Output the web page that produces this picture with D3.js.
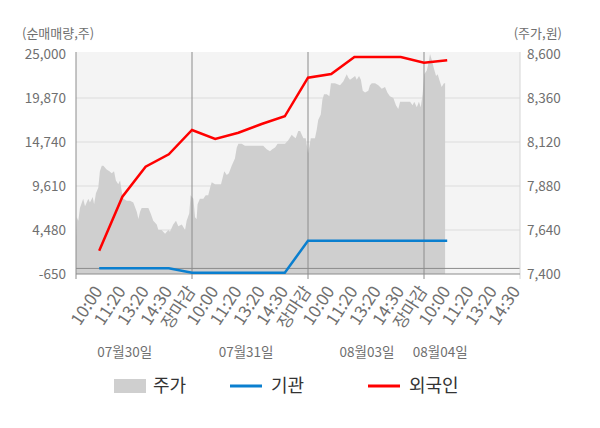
<!DOCTYPE html>
<html>
<head>
<meta charset="utf-8">
<script src="https://cdn.jsdelivr.net/npm/d3@7"></script>
<style>
  body { margin: 0; background: #fff; }
  svg { font-family: "Noto Sans CJK KR", "Noto Sans", sans-serif; }
  .tick_label { fill: #6f6f6f; font-size: 13.5px; }
  .legend_label { fill: #333; font-size: 18px; }
</style>
</head>
<body>
<svg id="chart" width="600" height="428"></svg>
<script>
// x labels, one per slot (slot 1..19), five slots per trading day
let xLabels = ["10:00", "11:20", "13:20", "14:30", "장마감",
               "10:00", "11:20", "13:20", "14:30", "장마감",
               "10:00", "11:20", "13:20", "14:30", "장마감",
               "10:00", "11:20", "13:20", "14:30"];
let dayLabels = ["07월30일", "07월31일", "08월03일", "08월04일"];
let daySlots = [2.1, 7.33, 12.54, 15.7];
let dayBreaks = [5, 10, 15];

let leftTicks = [-650, 4480, 9610, 14740, 19870, 25000];
let rightTicks = [7400, 7640, 7880, 8120, 8360, 8600];

// 순매매량 at slots 1..16
let foreign = [2070, 8360, 11860, 13310, 16140, 15090, 15820, 16840, 17740,
               22240, 22670, 24650, 24650, 24650, 23990, 24270];
let institution = [30, 30, 30, 30, -500, -500, -500, -500, -500,
                   3230, 3230, 3230, 3230, 3230, 3230, 3230];

// 주가 (intraday), [slot, price]
let price = [
  [0.00, 7600], [0.03, 7710], [0.10, 7690], [0.17, 7760], [0.31, 7810], [0.39, 7770],
  [0.53, 7810], [0.60, 7790], [0.72, 7820], [0.78, 7780], [0.86, 7840], [0.96, 7870],
  [1.03, 7960], [1.11, 7990], [1.18, 7990], [1.32, 7970], [1.44, 7960], [1.54, 7950],
  [1.64, 7960], [1.72, 7910], [1.82, 7890], [1.90, 7910], [1.97, 7850], [2.04, 7810],
  [2.19, 7800], [2.33, 7800], [2.47, 7790], [2.62, 7740], [2.69, 7700], [2.76, 7740],
  [2.83, 7760], [2.97, 7760], [3.12, 7760], [3.22, 7730], [3.33, 7690], [3.48, 7670],
  [3.55, 7640], [3.69, 7640], [3.84, 7620], [3.98, 7640], [4.05, 7630], [4.19, 7670],
  [4.31, 7690], [4.41, 7660], [4.56, 7670], [4.70, 7640], [4.77, 7690], [4.88, 7730],
  [4.94, 7830], [5.06, 7810], [5.13, 7710], [5.20, 7700], [5.24, 7780], [5.34, 7810],
  [5.49, 7810], [5.59, 7830], [5.70, 7830], [5.78, 7870], [5.85, 7900], [5.99, 7890],
  [6.13, 7890], [6.25, 7890], [6.31, 7920], [6.39, 7960], [6.50, 7940], [6.59, 7950],
  [6.71, 7990], [6.85, 8030], [6.93, 8090], [7.00, 8110], [7.14, 8110], [7.28, 8100],
  [7.43, 8100], [7.57, 8100], [7.72, 8100], [7.86, 8100], [8.07, 8100], [8.22, 8080],
  [8.36, 8070], [8.46, 8080], [8.58, 8090], [8.69, 8110], [8.87, 8110], [9.01, 8110],
  [9.15, 8130], [9.30, 8160], [9.37, 8150], [9.47, 8140], [9.58, 8180], [9.66, 8180],
  [9.80, 8140], [9.90, 8140], [9.99, 8070], [10.01, 8060], [10.12, 8140], [10.30, 8140],
  [10.38, 8190], [10.44, 8240], [10.55, 8270], [10.62, 8350], [10.69, 8380], [10.81, 8380],
  [10.92, 8370], [10.99, 8440], [11.16, 8440], [11.38, 8430], [11.52, 8450], [11.67, 8490],
  [11.74, 8470], [11.81, 8460], [11.93, 8470], [12.03, 8480], [12.10, 8460], [12.20, 8480],
  [12.28, 8460], [12.36, 8400], [12.46, 8390], [12.60, 8400], [12.67, 8430], [12.75, 8440],
  [12.89, 8440], [13.03, 8430], [13.18, 8410], [13.32, 8420], [13.42, 8390], [13.53, 8370],
  [13.68, 8360], [13.79, 8320], [13.89, 8300], [13.97, 8340], [14.11, 8340], [14.25, 8340],
  [14.40, 8340], [14.51, 8320], [14.58, 8340], [14.69, 8310], [14.78, 8340], [14.86, 8310],
  [14.94, 8380], [15.01, 8490], [15.12, 8510], [15.19, 8550], [15.26, 8600], [15.33, 8570],
  [15.43, 8520], [15.52, 8480], [15.59, 8490], [15.66, 8460], [15.76, 8420], [15.86, 8440],
  [15.91, 8440]
];

let legendItems = [
  {name: "주가", color: "#cfcfcf", type: "rect"},
  {name: "기관", color: "#0a7fcf", type: "line"},
  {name: "외국인", color: "#ff0000", type: "line"}
];

let plot = {left: 76, right: 520, top: 52, bottom: 274};
let fmt = d3.formatLocale({decimal: ".", thousands: ",", grouping: [3], currency: ["", ""], minus: "-"}).format(",");

function make_scales() {
  return {
    x: d3.scaleLinear().domain([0, 20]).range([plot.left, plot.left + 464]),
    yL: d3.scaleLinear().domain([-650, 25000]).range([plot.bottom, 54]),
    yR: d3.scaleLinear().domain([7400, 8600]).range([plot.bottom, 54])
  }
}

function draw(scales) {
  let svg = d3.select("#chart");

  svg.append("defs").append("clipPath").attr("id", "clip")
    .append("rect")
    .attr("x", plot.left).attr("y", plot.top)
    .attr("width", plot.right - plot.left).attr("height", plot.bottom - plot.top);

  svg.append("rect")
    .attr("x", plot.left).attr("y", plot.top)
    .attr("width", plot.right - plot.left).attr("height", plot.bottom - plot.top)
    .attr("fill", "#f4f4f4");

  // grid
  svg.append("g").selectAll("line")
    .data(leftTicks.slice(1, -1)).enter()
    .append("line")
    .attr("x1", plot.left).attr("x2", plot.right)
    .attr("y1", d => scales.yL(d)).attr("y2", d => scales.yL(d))
    .attr("stroke", "#dcdcdc").attr("stroke-width", 1);

  // price area
  let area = d3.area()
    .x(d => scales.x(d[0]))
    .y0(plot.bottom)
    .y1(d => scales.yR(d[1]));
  svg.append("path")
    .datum(price)
    .attr("clip-path", "url(#clip)")
    .attr("d", area)
    .attr("fill", "#cfcfcf");

  // zero line
  svg.append("line")
    .attr("x1", plot.left).attr("x2", plot.right)
    .attr("y1", scales.yL(0)).attr("y2", scales.yL(0))
    .attr("stroke", "#8c8c8c").attr("stroke-width", 1);

  // day breaks
  svg.append("g").selectAll("line")
    .data(dayBreaks).enter()
    .append("line")
    .attr("x1", d => scales.x(d)).attr("x2", d => scales.x(d))
    .attr("y1", plot.top).attr("y2", plot.bottom + 5)
    .attr("stroke", "#8c8c8c").attr("stroke-width", 1);

  // axes lines
  svg.append("line")
    .attr("x1", plot.left).attr("x2", plot.left)
    .attr("y1", plot.top).attr("y2", plot.bottom + 5)
    .attr("stroke", "#8c8c8c");
  svg.append("line")
    .attr("x1", plot.right).attr("x2", plot.right)
    .attr("y1", plot.top).attr("y2", plot.bottom + 5)
    .attr("stroke", "#d6d6d6");
  svg.append("line")
    .attr("x1", plot.left).attr("x2", plot.right)
    .attr("y1", plot.bottom).attr("y2", plot.bottom)
    .attr("stroke", "#8c8c8c");

  // series lines
  let line = d3.line()
    .x((d, i) => scales.x(i + 1))
    .y(d => scales.yL(d));
  svg.append("path").datum(institution)
    .attr("d", line)
    .attr("fill", "none").attr("stroke", "#0a7fcf").attr("stroke-width", 2.5);
  svg.append("path").datum(foreign)
    .attr("d", line)
    .attr("fill", "none").attr("stroke", "#ff0000").attr("stroke-width", 2.5);

  annotations(svg, scales);
  legend(svg);
}

function annotations(svg, scales) {
  svg.append("g").selectAll("text")
    .data(leftTicks).enter()
    .append("text")
    .attr("class", "tick_label")
    .attr("x", 66).attr("y", d => scales.yL(d))
    .attr("dy", "0.35em").attr("text-anchor", "end")
    .text(d => fmt(d));

  svg.append("g").selectAll("text")
    .data(rightTicks).enter()
    .append("text")
    .attr("class", "tick_label")
    .attr("x", 527).attr("y", d => scales.yR(d))
    .attr("dy", "0.35em")
    .text(d => fmt(d));

  svg.append("text").attr("class", "tick_label")
    .attr("x", 22).attr("y", 38).style("font-size", "13px")
    .text("(순매매량,주)");
  svg.append("text").attr("class", "tick_label")
    .attr("x", 562).attr("y", 38).attr("text-anchor", "end").style("font-size", "13px")
    .text("(주가,원)");

  svg.append("g").selectAll("text")
    .data(xLabels).enter()
    .append("text")
    .attr("class", "tick_label")
    .style("font-size", "17px")
    .attr("text-anchor", "end")
    .attr("transform", (d, i) => `translate(${scales.x(i + 1) + 4}, 291)rotate(-57)`)
    .attr("fill", (d, i) => d == "장마감" ? "#ff0000" : (i == 15 ? "#222" : "#6f6f6f"))
    .text(d => d);

  svg.append("g").selectAll("text")
    .data(dayLabels).enter()
    .append("text")
    .attr("class", "tick_label")
    .attr("x", (d, i) => scales.x(daySlots[i]))
    .attr("y", 352).attr("dy", "0.35em")
    .attr("text-anchor", "middle")
    .text(d => d);
}

function legend(svg) {
  let pos = [114, 230, 368];
  let g = svg.append("g").selectAll("g")
    .data(legendItems).enter()
    .append("g")
    .attr("transform", (d, i) => `translate(${pos[i]}, 386)`);
  g.filter(d => d.type == "rect").append("rect")
    .attr("x", 0).attr("y", -7).attr("width", 32).attr("height", 14)
    .attr("fill", d => d.color);
  g.filter(d => d.type == "line").append("line")
    .attr("x1", 0).attr("x2", 32).attr("y1", 0).attr("y2", 0)
    .attr("stroke", d => d.color).attr("stroke-width", 3);
  g.append("text")
    .attr("class", "legend_label")
    .attr("x", (d, i) => d.type == "rect" ? 39 : 41)
    .attr("dy", "0.35em")
    .text(d => d.name);
}

draw(make_scales());
</script>
</body>
</html>
